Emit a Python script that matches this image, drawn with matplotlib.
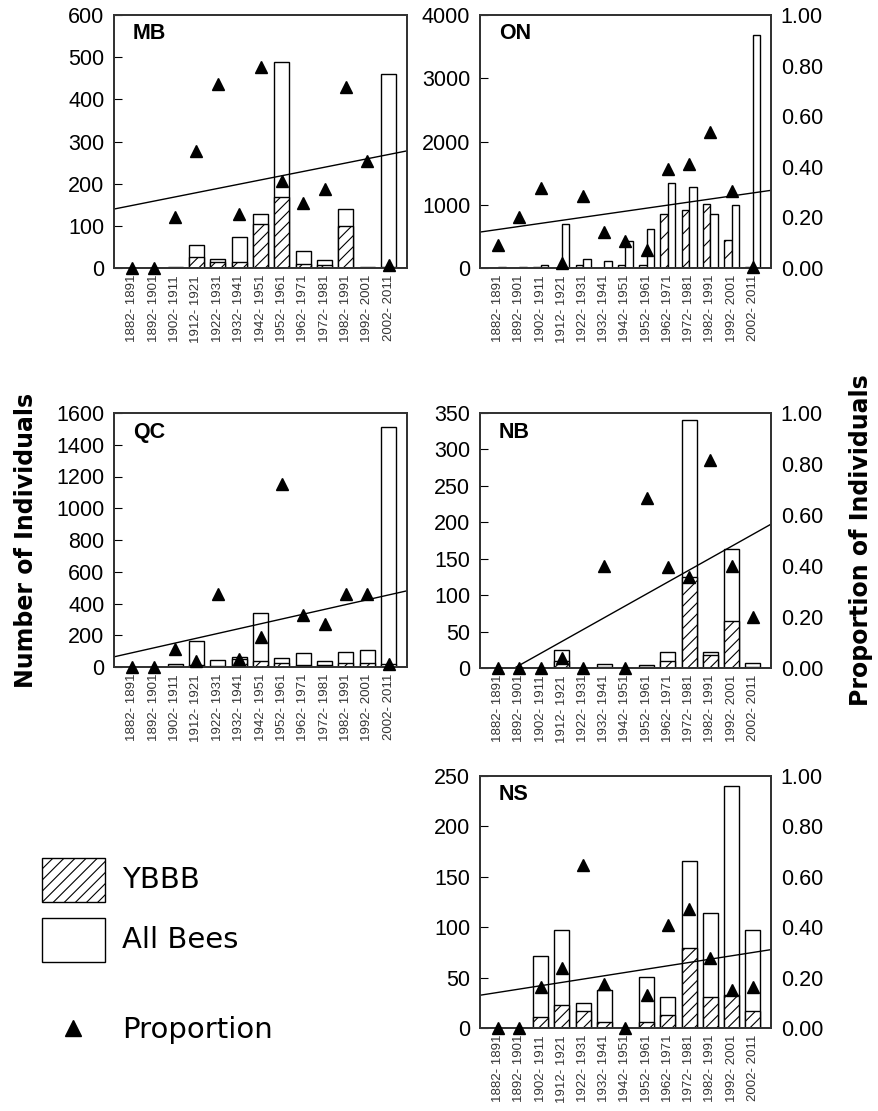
import numpy as np
import matplotlib.pyplot as plt
from matplotlib.patches import Rectangle
from matplotlib.ticker import FormatStrFormatter

plt.rcParams['font.family'] = ['Liberation Sans', 'DejaVu Sans']
plt.rcParams['hatch.linewidth'] = 0.8

# decades sampled
periods = ['1882- 1891', '1892- 1901', '1902- 1911', '1912- 1921', '1922- 1931',
           '1932- 1941', '1942- 1951', '1952- 1961', '1962- 1971', '1972- 1981',
           '1982- 1991', '1992- 2001', '2002- 2011']

# Manitoba
mb_all = [0, 0, 3, 55, 22, 74, 129, 488, 40, 18, 141, 3, 461]
mb_ybbb = [0, 0, 1, 26, 14, 14, 104, 169, 10, 6, 100, 1, 2]
mb_prop = [0, 0, 0.20, 0.463, 0.726, 0.215, 0.795, 0.344, 0.255, 0.313, 0.714, 0.424, 0.01]
mb_trend = [0.233, 0.463]

# Ontario
on_all = [15, 10, 40, 700, 150, 105, 420, 615, 1350, 1280, 860, 990, 3680]
on_ybbb = [0, 0, 10, 0, 50, 0, 50, 50, 860, 920, 1005, 450, 10]
on_prop = [0.092, 0.20, 0.318, 0.02, 0.284, 0.142, 0.107, 0.073, 0.39, 0.413, 0.537, 0.305, 0.005]
on_trend = [0.142, 0.307]

# Quebec
qc_all = [0, 0, 20, 165, 45, 65, 340, 55, 90, 40, 97, 107, 1510]
qc_ybbb = [0, 0, 5, 10, 5, 50, 35, 25, 15, 10, 25, 25, 20]
qc_prop = [0, 0, 0.072, 0.025, 0.286, 0.03, 0.118, 0.72, 0.204, 0.168, 0.286, 0.286, 0.01]
qc_trend = [0.04, 0.30]

# New Brunswick
nb_all = [0, 0, 0, 25, 0, 5, 0, 4, 22, 340, 22, 163, 7]
nb_ybbb = [0, 0, 0, 10, 0, 2, 0, 2, 10, 125, 18, 65, 2]
nb_prop = [0, 0, 0, 0.04, 0, 0.40, 0, 0.665, 0.395, 0.355, 0.815, 0.40, 0.20]
nb_trend = [-0.076, 0.564]

# Nova Scotia
ns_all = [0, 0, 71, 97, 25, 38, 0, 51, 31, 166, 114, 240, 97]
ns_ybbb = [0, 0, 11, 23, 17, 6, 0, 6, 13, 79, 31, 33, 17]
ns_prop = [0, 0, 0.163, 0.24, 0.645, 0.173, 0, 0.13, 0.41, 0.474, 0.278, 0.152, 0.163]
ns_trend = [0.13, 0.311]

W, H = 879, 1111
fig = plt.figure(figsize=(W / 100, H / 100), dpi=100)


def rect(l, t, r, b):
    return [l / W, 1 - b / H, (r - l) / W, (b - t) / H]


panels = [
    ('MB', mb_all, mb_ybbb, mb_prop, mb_trend, 600, 100, False, False, rect(114, 15, 407, 268)),
    ('ON', on_all, on_ybbb, on_prop, on_trend, 4000, 1000, True, True, rect(480, 15, 771, 268)),
    ('QC', qc_all, qc_ybbb, qc_prop, qc_trend, 1600, 200, False, False, rect(114, 413, 407, 667)),
    ('NB', nb_all, nb_ybbb, nb_prop, nb_trend, 350, 50, True, False, rect(480, 413, 771, 668)),
    ('NS', ns_all, ns_ybbb, ns_prop, ns_trend, 250, 50, True, False, rect(480, 776, 771, 1028)),
]

x = np.arange(len(periods))
spine_c = '#333333'
for name, allb, ybbb, prop, trend, ymax, step, right, split, pos in panels:
    ax = fig.add_axes(pos)
    if split:
        ax.bar(x - 0.175, ybbb, 0.35, color='white', edgecolor='k', hatch='//', lw=1)
        ax.bar(x + 0.175, allb, 0.35, color='white', edgecolor='k', lw=1)
    else:
        ax.bar(x, allb, 0.7, color='white', edgecolor='k', lw=1)
        ax.bar(x, ybbb, 0.7, color='white', edgecolor='k', hatch='///', lw=1)
    ax.set_xlim(-0.86, 12.86)
    ax.set_ylim(0, ymax)
    ax.set_yticks(np.arange(0, ymax + 1, step))
    ax.tick_params(axis='y', direction='in', length=6, labelsize=15.5, pad=7)
    ax.set_xticks(x)
    ax.set_xticklabels(periods, rotation=90, fontsize=9.5, color='#333333')
    ax.tick_params(axis='x', length=0, pad=5)
    ax.text(0.065, 0.925, name, transform=ax.transAxes, fontsize=15.5,
            fontweight='bold', va='center')

    ax2 = ax.twinx()
    ax2.set_ylim(0, 1)
    if right:
        ax2.set_yticks(np.arange(0, 1.01, 0.2))
        ax2.yaxis.set_major_formatter(FormatStrFormatter('%.2f'))
        ax2.tick_params(axis='y', length=0, labelsize=15.5, pad=7)
    else:
        ax2.set_yticks([])
    ax2.plot(x, prop, '^', color='k', ms=9, clip_on=False, zorder=5)
    ax2.plot(ax.get_xlim(), trend, color='k', lw=1)
    for a in (ax, ax2):
        for s in a.spines.values():
            s.set_color(spine_c)
            s.set_linewidth(1.3)

fig.text(0.03, 0.514, 'Number of Individuals', rotation=90, fontsize=17,
         fontweight='bold', family='DejaVu Sans', ha='center', va='center')
fig.text(0.98, 0.514, 'Proportion of Individuals', rotation=90, fontsize=17,
         fontweight='bold', family='DejaVu Sans', ha='center', va='center')

# legend drawn in pixel space
lg = fig.add_axes([0, 1 - 1060 / H, 320 / W, 280 / H])
lg.set_xlim(0, 320)
lg.set_ylim(280 + 780, 780)
lg.axis('off')
lg.add_patch(Rectangle((42, 858), 63, 44, facecolor='white', edgecolor='k', hatch='///', lw=1))
lg.add_patch(Rectangle((42, 918), 63, 44, facecolor='white', edgecolor='k', lw=1))
lg.plot([73], [1028], '^', color='k', ms=11)
for ty, label in [(880, 'YBBB'), (940, 'All Bees'), (1030, 'Proportion')]:
    lg.text(122, ty, label, fontsize=21, family='DejaVu Sans', va='center')

plt.savefig('out.png', dpi=100)
